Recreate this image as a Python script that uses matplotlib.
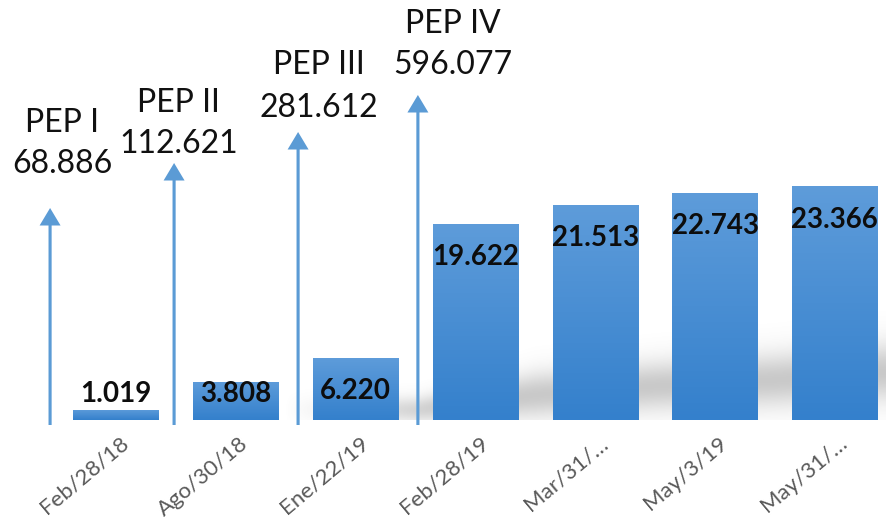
import numpy as np
import matplotlib
matplotlib.use('Agg')
import matplotlib.pyplot as plt
from matplotlib.patches import FancyArrow

# datos del gráfico
fechas = ['Feb/28/18', 'Ago/30/18', 'Ene/22/19', 'Feb/28/19',
          'Mar/31/…', 'May/3/19', 'May/31/…']
valores = [1.019, 3.808, 6.220, 19.622, 21.513, 22.743, 23.366]
etiquetas = ['1.019', '3.808', '6.220', '19.622', '21.513', '22.743', '23.366']

peps = ['PEP I', 'PEP II', 'PEP III', 'PEP IV']
pep_valores = ['68.886', '112.621', '281.612', '596.077']

# posición de las flechas (entre barras) y su altura
flecha_x = [-0.55, 0.485, 1.52, 2.52]
flecha_top = [21.2, 25.7, 28.8, 32.5]
# posición de los textos PEP
texto_x = [-0.45, 0.52, 1.69, 2.81]
nombre_y = [28.8, 30.8, 34.6, 38.7]
valor_y = [24.7, 26.7, 30.3, 34.6]

plt.rcParams['font.family'] = ['Lato', 'DejaVu Sans']

fig = plt.figure(figsize=(8.86, 5.24), dpi=100)
ax = fig.add_axes([0, 0, 1, 1])
ax.set_xlim(-0.968, 6.427)
ax.set_ylim(-10.4, 42.0)
ax.axis('off')

# sombra gris difusa detrás de las barras
xs = np.linspace(0.8, 6.43, 400)
ys = np.linspace(0, 11, 240)
X, Y = np.meshgrid(xs, ys)
centro = np.interp(X, [2.5, 3.5, 4.5, 5.5, 6.4], [1.0, 2.5, 3.4, 4.0, 4.8])
sigma = np.interp(X, [2.5, 3.5, 6.4], [0.9, 1.6, 2.0])
fade = np.clip((X - 1.4) / 1.4, 0, 1)
alpha = 0.42 * np.exp(-0.5 * ((Y - centro) / sigma) ** 2) * fade
sombra = np.zeros(X.shape + (4,))
sombra[..., :3] = 0.5
sombra[..., 3] = alpha
ax.imshow(sombra, extent=(xs[0], xs[-1], ys[0], ys[-1]), origin='lower',
          aspect='auto', interpolation='bilinear', zorder=1)

# barras con degradado
x = np.arange(len(fechas))
barras = ax.bar(x, valores, width=0.71, color='#4a8fd6', zorder=2)
grad = np.linspace(0, 1, 256).reshape(-1, 1)
arriba = np.array([94, 156, 218]) / 255
abajo = np.array([52, 128, 204]) / 255
img = (abajo + (arriba - abajo) * grad[..., None]).reshape(256, 1, 3)
for b in barras:
    x0, y0 = b.get_x(), b.get_y()
    im = ax.imshow(img, extent=(x0, x0 + b.get_width(), y0, y0 + b.get_height()),
                   origin='lower', aspect='auto', zorder=3)
    im.set_clip_path(b)

# etiquetas de las barras
for xi, v, t in zip(x, valores, etiquetas):
    ax.text(xi, max(v - 4.15, 1.8), t, ha='center', va='baseline',
            fontsize=20, fontweight='bold', color='#0d0d0d', zorder=5)

# etiquetas del eje x rotadas
for xi, f in zip(x, fechas):
    ax.text(xi + 0.03, -1.3, f, rotation=40, rotation_mode='anchor',
            ha='right', va='top', fontsize=16, color='#595959')

# flechas y textos PEP
for fx, ft in zip(flecha_x, flecha_top):
    ax.add_patch(FancyArrow(fx, -0.5, 0, ft + 0.5, width=0.026,
                            head_width=0.175, head_length=1.75,
                            length_includes_head=True, color='#5b9bd5',
                            lw=0, zorder=4))
for tx, n, ny, pv, vy in zip(texto_x, peps, nombre_y, pep_valores, valor_y):
    ax.text(tx, ny, n, ha='center', va='baseline', fontsize=23, color='#111111')
    ax.text(tx, vy, pv, ha='center', va='baseline', fontsize=23, color='#111111')

fig.savefig('out.png', dpi=100)
